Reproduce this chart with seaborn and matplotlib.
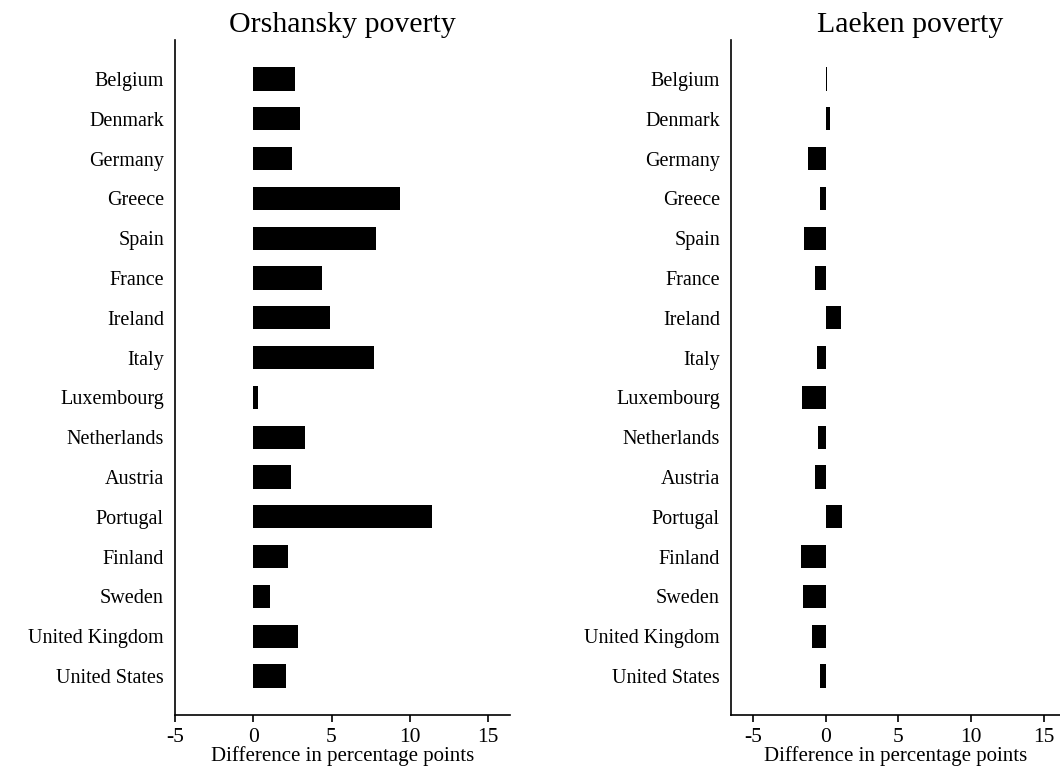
import matplotlib
matplotlib.use("Agg")
import matplotlib.pyplot as plt
import seaborn as sns
import pandas as pd

countries = ["Belgium", "Denmark", "Germany", "Greece", "Spain", "France",
             "Ireland", "Italy", "Luxembourg", "Netherlands", "Austria",
             "Portugal", "Finland", "Sweden", "United Kingdom", "United States"]

# difference in percentage points
orshansky = [2.65, 2.97, 2.49, 9.39, 7.83, 4.36, 4.90, 7.69, 0.29, 3.32,
             2.38, 11.43, 2.23, 1.10, 2.87, 2.06]
laeken = [0.07, 0.27, -1.19, -0.37, -1.51, -0.71, 1.03, -0.60, -1.60, -0.55,
          -0.71, 1.12, -1.70, -1.53, -0.92, -0.41]

xticks = [-5, 0, 5, 10, 15]

df = pd.DataFrame({"country": countries, "orshansky": orshansky, "laeken": laeken})

sns.set_style("ticks")
plt.rcParams["font.family"] = ["Liberation Serif", "DejaVu Serif"]
plt.rcParams["text.color"] = "black"
plt.rcParams["axes.labelcolor"] = "black"
plt.rcParams["xtick.color"] = "black"
plt.rcParams["ytick.color"] = "black"

W, H = 1060, 778
fig = plt.figure(figsize=(W / 100, H / 100), dpi=100)
bottom, top = 715, 40
ax1 = fig.add_axes([175 / W, 1 - bottom / H, 335 / W, (bottom - top) / H])
ax2 = fig.add_axes([731 / W, 1 - bottom / H, 329 / W, (bottom - top) / H])

panels = [
    (ax1, "orshansky", "Orshansky poverty", (-5, 16.4), 0.5),
    (ax2, "laeken", "Laeken poverty", (-6.5, 16.1), 0.544),
]

for ax, col, title, xlim, tx in panels:
    sns.barplot(data=df, x=col, y="country", orient="h", color="black",
                saturation=1, width=0.58, ax=ax, linewidth=0)
    ax.set_xlim(*xlim)
    ax.set_ylim(15.98, -0.98)
    ax.set_xticks(xticks)
    ax.set_xticklabels([str(t) for t in xticks])
    ax.set_ylabel("")
    ax.set_xlabel("Difference in percentage points", fontsize=15, labelpad=0)
    ax.set_title(title, fontsize=21.5, x=tx, pad=6)
    sns.despine(ax=ax)
    for s in ["left", "bottom"]:
        ax.spines[s].set_linewidth(1.2)
        ax.spines[s].set_color("black")
    ax.tick_params(axis="y", length=0, pad=8, labelsize=14.5)
    ax.tick_params(axis="x", length=5, width=1.2, direction="out",
                   labelsize=15.5, pad=4)

fig.savefig("out.png", dpi=100)
